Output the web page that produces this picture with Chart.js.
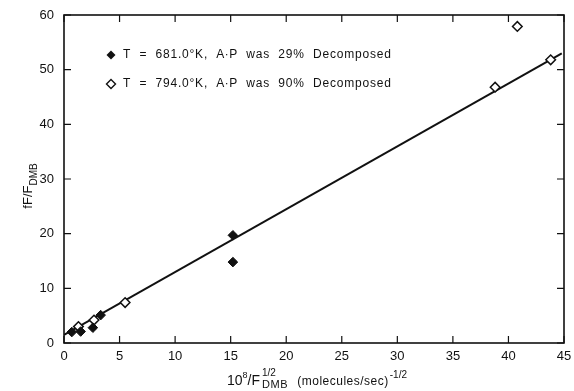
<!DOCTYPE html>
<html>
<head>
<meta charset="utf-8">
<script src="https://cdn.jsdelivr.net/npm/chart.js@4"></script>
<style>
  html, body { margin: 0; padding: 0; background: #fff; }
  #wrap { width: 574px; height: 391px; }
</style>
</head>
<body>
<div id="wrap"><canvas id="chart" width="574" height="391"></canvas></div>
<script>
// data
const lowTempX = [0.7, 1.5, 2.6, 3.3, 15.2, 15.2];
const lowTempY = [2.0, 2.1, 2.8, 5.1, 14.8, 19.7];
const highTempX = [1.3, 2.7, 5.5, 38.8, 40.8, 43.8];
const highTempY = [3.0, 4.2, 7.4, 46.8, 57.9, 51.8];
const fitX = [0, 44.8];
const fitY = [1.5, 53.0];
const xTicks = [0, 5, 10, 15, 20, 25, 30, 35, 40, 45];
const yTicks = [0, 10, 20, 30, 40, 50, 60];
const legendLabels = [
  'T  =  681.0\u00b0K,  A\u2219P  was  29%  Decomposed',
  'T  =  794.0\u00b0K,  A\u2219P  was  90%  Decomposed'
];

const FONT = '"Liberation Sans", Arial, sans-serif';
const ink = '#111';

function pts(xs, ys) { return xs.map((x, i) => ({ x: x, y: ys[i] })); }

// inward ticks on all four sides, custom legend and axis titles
const decor = {
  id: 'decor',
  afterDatasetsDraw(chart) {
    const ctx = chart.ctx, a = chart.chartArea;
    const xs = chart.scales.x, ys = chart.scales.y;
    ctx.save();
    ctx.strokeStyle = ink;
    ctx.lineWidth = 1.2;
    const L = 7;
    xTicks.forEach(v => {
      const px = xs.getPixelForValue(v);
      ctx.beginPath();
      ctx.moveTo(px, a.bottom); ctx.lineTo(px, a.bottom - L);
      ctx.moveTo(px, a.top); ctx.lineTo(px, a.top + L);
      ctx.stroke();
    });
    yTicks.forEach(v => {
      const py = ys.getPixelForValue(v);
      ctx.beginPath();
      ctx.moveTo(a.left, py); ctx.lineTo(a.left + L, py);
      ctx.moveTo(a.right, py); ctx.lineTo(a.right - L, py);
      ctx.stroke();
    });
    // frame
    ctx.lineWidth = 1.6;
    ctx.strokeRect(a.left, a.top, a.right - a.left, a.bottom - a.top);

    // legend
    ctx.fillStyle = ink;
    ctx.textBaseline = 'middle';
    const rows = [55, 84];
    rows.forEach((y, i) => {
      const cx = 111, r = 4.5;
      ctx.beginPath();
      ctx.moveTo(cx, y - r); ctx.lineTo(cx + r, y); ctx.lineTo(cx, y + r); ctx.lineTo(cx - r, y); ctx.closePath();
      if (i === 0) { ctx.fillStyle = ink; ctx.fill(); }
      else { ctx.fillStyle = '#fff'; ctx.fill(); ctx.lineWidth = 1.4; ctx.stroke(); }
      ctx.fillStyle = ink;
      ctx.textAlign = 'left';
      ctx.font = '12px ' + FONT;
      ctx.letterSpacing = '0.8px';
      ctx.fillText(legendLabels[i], 123, y);
      ctx.letterSpacing = '0px';
    });

    // y title: fF/F_DMB
    ctx.save();
    ctx.translate(28, 186);
    ctx.rotate(-Math.PI / 2);
    ctx.textAlign = 'left';
    ctx.textBaseline = 'alphabetic';
    const t1 = 'fF/F';
    ctx.font = '13px ' + FONT;
    const w1 = ctx.measureText(t1).width;
    ctx.font = '10px ' + FONT;
    const w2 = ctx.measureText('DMB').width;
    const sx = -(w1 + w2) / 2;
    ctx.font = '13px ' + FONT;
    ctx.fillText(t1, sx, 4);
    ctx.font = '10px ' + FONT;
    ctx.fillText('DMB', sx + w1, 9);
    ctx.restore();

    // x title: 10^8/F^{1/2}_{DMB}  (molecules/sec)^{-1/2}
    ctx.textAlign = 'left';
    ctx.textBaseline = 'alphabetic';
    let x = 227;
    const base = 385;
    const seg = (txt, size, dy) => {
      ctx.font = size + 'px ' + FONT;
      ctx.fillText(txt, x, base + dy);
      return ctx.measureText(txt).width;
    };
    x += seg('10', 14, 0);
    x += seg('8', 9, -7);
    x += seg('/F', 14, 0);
    x += 2;
    const sx2 = x;
    const wSup = seg('1/2', 10, -9);
    ctx.letterSpacing = '0.6px';
    const wSub = seg('DMB', 11, 3);
    ctx.letterSpacing = '0px';
    x = sx2 + Math.max(wSup, wSub) + 9;
    ctx.letterSpacing = '0.5px';
    x += seg('(molecules/sec)', 12, 0);
    ctx.letterSpacing = '0px';
    x += 1;
    seg('-1/2', 10, -7);
    ctx.restore();
  }
};

new Chart(document.getElementById('chart'), {
  type: 'scatter',
  data: {
    datasets: [
      {
        label: 'fit',
        type: 'line',
        data: pts(fitX, fitY),
        borderColor: ink,
        borderWidth: 2,
        pointRadius: 0,
        fill: false,
        order: 3
      },
      {
        label: legendLabels[0],
        data: pts(lowTempX, lowTempY),
        pointStyle: 'rectRot',
        pointRadius: 4.8,
        backgroundColor: ink,
        borderColor: ink,
        borderWidth: 1,
        order: 1
      },
      {
        label: legendLabels[1],
        data: pts(highTempX, highTempY),
        pointStyle: 'rectRot',
        pointRadius: 4.8,
        backgroundColor: '#fff',
        borderColor: ink,
        borderWidth: 1.5,
        order: 2
      }
    ]
  },
  options: {
    responsive: false,
    animation: false,
    layout: { padding: { top: 15, right: 10, left: 0, bottom: 0 } },
    plugins: {
      legend: { display: false },
      tooltip: { enabled: false }
    },
    scales: {
      x: {
        type: 'linear',
        min: 0, max: 45,
        afterBuildTicks: s => { s.ticks = xTicks.map(v => ({ value: v })); },
        afterFit: s => { s.height = 48; s.paddingLeft = 0; s.paddingRight = 0; },
        grid: { display: false, drawTicks: false },
        border: { display: false },
        ticks: { color: ink, padding: 6, font: { family: FONT, size: 13 } }
      },
      y: {
        type: 'linear',
        min: 0, max: 60,
        afterBuildTicks: s => { s.ticks = yTicks.map(v => ({ value: v })); },
        afterFit: s => { s.width = 64; s.paddingTop = 0; s.paddingBottom = 0; },
        grid: { display: false, drawTicks: false },
        border: { display: false },
        ticks: { color: ink, padding: 10, font: { family: FONT, size: 13 } }
      }
    }
  },
  plugins: [decor]
});
</script>
</body>
</html>
